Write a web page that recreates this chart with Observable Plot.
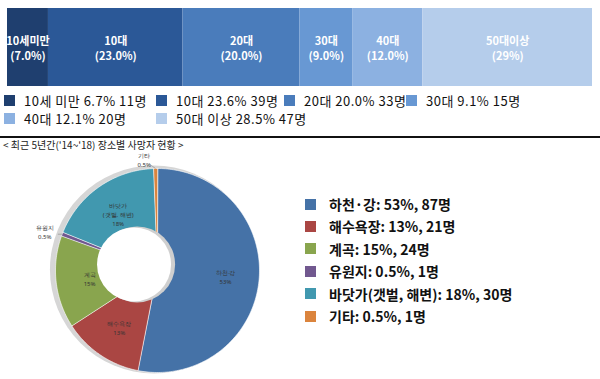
<!DOCTYPE html>
<html>
<head>
<meta charset="utf-8">
<script src="https://cdn.jsdelivr.net/npm/d3@7"></script>
<script src="https://cdn.jsdelivr.net/npm/@observablehq/plot@0.6"></script>
<style>
  html, body { margin: 0; padding: 0; background: #fff; }
  #wrap { position: relative; width: 600px; height: 379px; overflow: hidden; font-family: "Noto Sans CJK KR", "Noto Sans", sans-serif; }
  #bar { position: absolute; left: 0; top: 0; }
  .leg { position: absolute; display: flex; align-items: center; font-size: 13px; letter-spacing: 0.5px; color: #111; white-space: nowrap; line-height: 1; }
  .sw { width: 11px; height: 11px; margin-right: 9px; flex: none; }
  #rule { position: absolute; left: 0; top: 136px; width: 600px; height: 2px; background: #111; }
  #sub { position: absolute; left: 3px; top: 140px; font-size: 10px; line-height: 1; color: #222; white-space: nowrap; }
  #donut { position: absolute; left: 0; top: 145px; }
  .leg2 { position: absolute; display: flex; align-items: center; font-size: 14px; font-weight: 700; color: #111; white-space: nowrap; line-height: 1; }
  .sw2 { width: 11px; height: 11px; margin-right: 13px; flex: none; }
</style>
</head>
<body>
<div id="wrap">
  <div id="bar"></div>
  <div id="legTop"></div>
  <div id="rule"></div>
  <div id="sub">&lt; 최근 5년간('14~'18) 장소별 사망자 현황 &gt;</div>
  <div id="donut"></div>
  <div id="legRight"></div>
</div>
<script>
// ---- Data: age groups (top stacked bar) ----
const ageGroups = ["10세미만", "10대", "20대", "30대", "40대", "50대이상"];
const agePct = [7.0, 23.0, 20.0, 9.0, 12.0, 29];
const agePctText = ["7.0%", "23.0%", "20.0%", "9.0%", "12.0%", "29%"];
const ageColors = ["#1f3f6f", "#2b5897", "#4a7cbb", "#6898d3", "#8cb1e1", "#b5cdeb"];

// ---- Data: age legend ----
const ageLegendNames = ["10세 미만", "10대", "20대", "30대", "40대", "50대 이상"];
const ageLegendPct = ["6.7%", "23.6%", "20.0%", "9.1%", "12.1%", "28.5%"];
const ageLegendCount = [11, 39, 33, 15, 20, 47];

// ---- Data: places (donut) ----
const places = ["하천·강", "해수욕장", "계곡", "유원지", "바닷가", "기타"];
const placeCounts = [87, 21, 24, 1, 30, 1];
const placePct = ["53%", "13%", "15%", "0.5%", "18%", "0.5%"];
const placeSliceLabels = ["하천·강", "해수욕장", "계곡", "유원지", "바닷가\n(갯벌, 해변)", "기타"];
const placeLegendNames = ["하천·강", "해수욕장", "계곡", "유원지", "바닷가(갯벌, 해변)", "기타"];
const placeColors = ["#4572a7", "#aa4643", "#89a54e", "#71588f", "#4198af", "#db843d"];

// ---------- Top stacked bar ----------
let acc = 0;
const barRows = ageGroups.map((g, i) => {
  const r = { group: g, x1: acc, x2: acc + agePct[i], label: g + "\n(" + agePctText[i] + ")" };
  acc += agePct[i];
  return r;
});
const barPlot = Plot.plot({
  width: 600, height: 92,
  marginLeft: 7, marginRight: 8, marginTop: 8, marginBottom: 6,
  x: { domain: [0, 100], axis: null },
  color: { domain: ageGroups, range: ageColors },
  marks: [
    Plot.rectX(barRows, { x1: "x1", x2: "x2", fill: "group" }),
    Plot.text(barRows, { x: d => (d.x1 + d.x2) / 2, text: "label", fill: "white", fontSize: 11, fontWeight: "bold", lineHeight: 1.4, fontFamily: "Noto Sans CJK KR" })
  ]
});
document.getElementById("bar").appendChild(barPlot);

// ---------- Top legend ----------
const legCols = [4, 156, 284, 406];
const legTop = document.getElementById("legTop");
ageGroups.forEach((g, i) => {
  const col = i % 4, row = Math.floor(i / 4);
  const el = document.createElement("div");
  el.className = "leg";
  el.style.left = legCols[col] + "px";
  el.style.top = (94 + row * 18) + "px";
  el.innerHTML = `<span class="sw" style="background:${ageColors[i]}"></span><span>${ageLegendNames[i]} ${ageLegendPct[i]} ${ageLegendCount[i]}명</span>`;
  legTop.appendChild(el);
});

// ---------- Donut ----------
const pie = d3.pie().sort(null).value(d => d)(placeCounts);
const pts = [];
pie.forEach((p, i) => {
  const n = Math.max(4, Math.ceil((p.endAngle - p.startAngle) / 0.02));
  pts.push({ name: places[i], x: 0, y: 0 });
  for (let k = 0; k <= n; k++) {
    const a = p.startAngle + (p.endAngle - p.startAngle) * k / n;
    pts.push({ name: places[i], x: Math.sin(a), y: -Math.cos(a) });
  }
});
const mid = p => (p.startAngle + p.endAngle) / 2;
const inLabels = pie.map((p, i) => ({ i, a: mid(p), text: placeSliceLabels[i] + "\n" + placePct[i] }))
  .filter(d => placeCounts[d.i] > 1)
  .map(d => ({ ...d, x: 0.67 * Math.sin(d.a), y: -0.67 * Math.cos(d.a) }));
const outIdx = pie.map((p, i) => i).filter(i => placeCounts[i] <= 1);
const outOffset = { 3: -0.03, 5: -0.1 };
const outRad = { 3: 1.17, 5: 1.09 };
const outLabels = outIdx.map(i => {
  const a = mid(pie[i]) + outOffset[i];
  return { text: placeSliceLabels[i] + "\n" + placePct[i], x: outRad[i] * Math.sin(a), y: -outRad[i] * Math.cos(a),
    lx1: Math.sin(mid(pie[i])), ly1: -Math.cos(mid(pie[i])), lx2: 1.04 * Math.sin(a - outOffset[i] * 0.5), ly2: -1.04 * Math.cos(a - outOffset[i] * 0.5) };
});
const R = 102, cx = 157, cy = 125;
const hole = [{ x: -0.23, y: -0.06 }];
const donutPlot = Plot.plot({
  width: 290, height: 234, margin: 0,
  x: { domain: [-1, 1], range: [cx - R, cx + R], axis: null },
  y: { domain: [-1, 1], range: [cy - R, cy + R], axis: null },
  color: { domain: places, range: placeColors },
  marks: [
    Plot.dot([0], { x: () => -0.035, y: () => -0.01, r: R + 2, fill: "#d6d6d6" }),
    Plot.line(pts, { x: "x", y: "y", z: "name", fill: "name", stroke: "white", strokeWidth: 0.6, curve: "linear-closed" }),
    Plot.dot(hole, { x: d => d.x + 0.03, y: "y", r: 38, fill: "#cfcfcf" }),
    Plot.dot(hole, { x: "x", y: "y", r: 37, fill: "white" }),
    Plot.text(inLabels, { x: "x", y: "y", text: "text", fontSize: 6, fill: "#333", lineHeight: 1.5 }),
    Plot.link(outLabels, { x1: "lx1", y1: "ly1", x2: "lx2", y2: "ly2", stroke: "#888", strokeWidth: 0.6 }),
    Plot.text(outLabels, { x: "x", y: "y", text: "text", fontSize: 6, fill: "#333", lineHeight: 1.5 })
  ]
});
document.getElementById("donut").appendChild(donutPlot);

// ---------- Right legend ----------
const legRight = document.getElementById("legRight");
places.forEach((p, i) => {
  const el = document.createElement("div");
  el.className = "leg2";
  el.style.left = "305px";
  el.style.top = (197 + i * 22.4) + "px";
  el.innerHTML = `<span class="sw2" style="background:${placeColors[i]}"></span><span>${placeLegendNames[i]}: ${placePct[i]}, ${placeCounts[i]}명</span>`;
  legRight.appendChild(el);
});
</script>
</body>
</html>
